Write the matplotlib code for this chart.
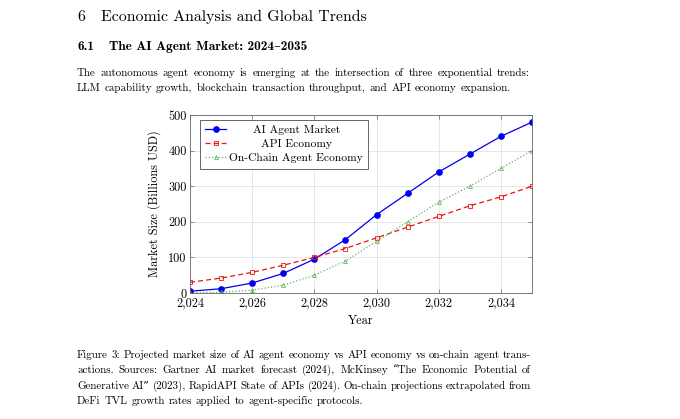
import matplotlib
matplotlib.use('Agg')
import matplotlib.pyplot as plt
from matplotlib.ticker import FuncFormatter

years = [2024, 2025, 2026, 2027, 2028, 2029, 2030, 2031, 2032, 2033, 2034, 2035]
ai_agent = [5, 12, 28, 55, 95, 150, 220, 280, 340, 390, 440, 480]
api_economy = [30, 42, 58, 78, 100, 125, 155, 185, 215, 245, 270, 300]
onchain = [1, 2, 8, 22, 50, 90, 145, 200, 255, 300, 350, 400]
series_labels = ['AI Agent Market', 'API Economy', 'On-Chain Agent Economy']

heading = ['6', 'Economic Analysis and Global Trends']
subheading = ['6.1', 'The AI Agent Market: 2024\u20132035']
body = ['The autonomous agent economy is emerging at the intersection of three exponential trends:',
        'LLM capability growth, blockchain transaction throughput, and API economy expansion.']
caption = ['Figure 3: Projected market size of AI agent economy vs API economy vs on-chain agent trans-',
           'actions.  Sources: Gartner AI market forecast (2024), McKinsey \u201cThe Economic Potential of',
           'Generative AI\u201d (2023), RapidAPI State of APIs (2024).  On-chain projections extrapolated from',
           'DeFi TVL growth rates applied to agent-specific protocols.']

RM = ['cmr10', 'DejaVu Serif']
BF = ['cmb10', 'DejaVu Serif']
FS = 7.9     # running text
CFS = 8.8    # ticks and axis labels
LFS = 8.3    # legend
W, H = 680, 419

plt.rcParams['font.family'] = RM
plt.rcParams['axes.unicode_minus'] = False

fig = plt.figure(figsize=(W / 100, H / 100), dpi=100)
renderer = fig.canvas.get_renderer()


def fx(px):
    return px / W


def fy(py):
    return 1 - py / H


def put_line(text, x0, x1, y, justify=True, size=FS, family=RM):
    # place word by word; justified lines fill x0..x1, last lines use a normal space
    words = text.split()
    parts = [fig.text(0, 0, w, fontsize=size, family=family, va='baseline') for w in words]
    widths = [p.get_window_extent(renderer).width for p in parts]
    if justify:
        gap = (x1 - x0 - sum(widths)) / (len(words) - 1)
    else:
        gap = 0.36 * size * 100 / 72
    x = x0
    for p, w in zip(parts, widths):
        p.set_position((fx(x), fy(y)))
        x += w + gap


# headings
fig.text(fx(77), fy(21), heading[0], fontsize=11.4, family=RM, va='baseline')
fig.text(fx(101), fy(21), heading[1], fontsize=11.4, family=RM, va='baseline')
fig.text(fx(77), fy(50), subheading[0], fontsize=9.6, family=BF, va='baseline')
fig.text(fx(109), fy(50), subheading[1], fontsize=9.6, family=BF, va='baseline')

put_line(body[0], 77, 530, 76)
put_line(body[1], 77, 530, 91, justify=False)

for i, line in enumerate(caption):
    put_line(line, 77, 531, 358 + i * 15.3, justify=(i < 3))

# chart
ax = fig.add_axes([fx(190), fy(293), (532 - 190) / W, (293 - 115) / H])
ax.plot(years, ai_agent, color='#0000ee', lw=0.9, marker='o', ms=3.8,
        label=series_labels[0])
ax.plot(years, api_economy, color='#ee1111', lw=0.9, ls=(0, (4, 2.5)), marker='s',
        ms=2.5, mfc='none', mew=0.6, label=series_labels[1])
ax.plot(years, onchain, color='#5cb85c', lw=0.9, ls=(0, (1, 1.6)), marker='^',
        ms=2.8, mfc='none', mew=0.6, label=series_labels[2])

ax.set_xlim(2024, 2035)
ax.set_ylim(0, 500)
ax.set_xticks(range(2024, 2035, 2))
ax.set_yticks(range(0, 501, 100))
ax.xaxis.set_major_formatter(FuncFormatter(lambda v, p: f'{v:,.0f}'))
ax.grid(True, color='#e3e3e3', lw=0.6)
ax.set_axisbelow(True)
ax.tick_params(direction='in', length=3, width=0.5, color='0.4', labelsize=CFS,
               top=True, right=True)
ax.tick_params(axis='x', pad=3.2)
ax.tick_params(axis='y', pad=2.5)
for s in ax.spines.values():
    s.set_color('0.4')
    s.set_linewidth(0.6)
ax.set_xlabel('Year', fontsize=CFS, labelpad=4)
ax.set_ylabel('Market Size (Billions USD)', fontsize=CFS, labelpad=5.5)

leg = ax.legend(loc='upper left', bbox_to_anchor=(0.029, 0.972), fontsize=LFS,
                frameon=True, fancybox=False, framealpha=1, edgecolor='0.3',
                handlelength=1.85, handletextpad=0.25, labelspacing=0.35,
                borderpad=0.45, borderaxespad=0)
leg.get_frame().set_linewidth(0.6)

# centre the legend entries like pgfplots does
fig.canvas.draw()
texts = leg.get_texts()
tw = [t.get_window_extent(renderer).width for t in texts]
for t, w in zip(texts, tw):
    t.set_position(((max(tw) - w) / 2, 0))

fig.savefig('out.png', dpi=100)
